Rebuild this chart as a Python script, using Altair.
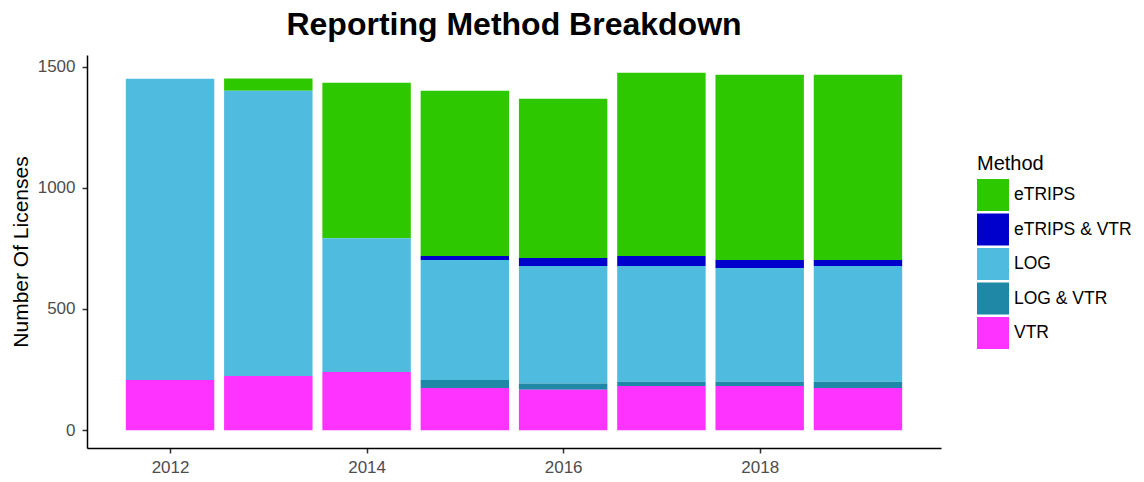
import altair as alt
import pandas as pd

years = [2012, 2013, 2014, 2015, 2016, 2017, 2018, 2019]
methods = ["eTRIPS", "eTRIPS & VTR", "LOG", "LOG & VTR", "VTR"]
colors = ["#2EC800", "#0000CC", "#4FBBDE", "#1F88A6", "#FF33FF"]

etrips = [0, 51, 641, 682, 657, 756, 764, 764]
etrips_vtr = [0, 0, 0, 16, 33, 41, 33, 25]
log = [1243, 1177, 552, 495, 485, 477, 469, 477]
log_vtr = [0, 0, 0, 33, 25, 18, 18, 26]
vtr = [207, 223, 240, 174, 167, 182, 182, 174]

series = {
    "eTRIPS": etrips,
    "eTRIPS & VTR": etrips_vtr,
    "LOG": log,
    "LOG & VTR": log_vtr,
    "VTR": vtr,
}
stack_rank = {"VTR": 0, "LOG & VTR": 1, "LOG": 2, "eTRIPS & VTR": 3, "eTRIPS": 4}

rows = []
for m, vals in series.items():
    for y, v in zip(years, vals):
        if v > 0:
            rows.append({"year": y, "Method": m, "value": v, "rank": stack_rank[m]})
df = pd.DataFrame(rows)

FONT = "Liberation Sans"

chart = (
    alt.Chart(df)
    .transform_stack(
        stack="value",
        groupby=["year"],
        as_=["y0", "y1"],
        sort=[alt.SortField("rank", order="ascending")],
    )
    .transform_calculate(xa="datum.year - 0.45", xb="datum.year + 0.45")
    .mark_bar()
    .encode(
        x=alt.X(
            "xa:Q",
            scale=alt.Scale(domain=[2011.155, 2019.845], nice=False, zero=False),
            axis=alt.Axis(values=[2012, 2014, 2016, 2018], format="d", title=None),
        ),
        x2="xb:Q",
        y=alt.Y(
            "y0:Q",
            scale=alt.Scale(domain=[-73.7, 1547.7], nice=False, zero=False),
            axis=alt.Axis(values=[0, 500, 1000, 1500], format="d", title="Number Of Licenses"),
        ),
        y2="y1:Q",
        color=alt.Color(
            "Method:N",
            scale=alt.Scale(domain=methods, range=colors),
            legend=alt.Legend(
                title="Method",
                orient="none",
                legendX=890,
                legendY=99,
                symbolType="square",
                symbolSize=1024,
                symbolStrokeWidth=0,
                symbolOpacity=1,
                labelFontSize=17.5,
                labelFont=FONT,
                labelColor="#000000",
                labelOffset=5,
                titleFontSize=20,
                titleFont=FONT,
                titleFontWeight="normal",
                titleColor="#000000",
                titlePadding=5,
                rowPadding=2.5,
                padding=0,
            ),
        ),
    )
    .properties(
        width=854,
        height=393,
        title=alt.TitleParams(
            "Reporting Method Breakdown",
            font=FONT,
            fontSize=32,
            fontWeight="bold",
            color="#000000",
            anchor="middle",
            offset=13,
        ),
        autosize=alt.AutoSizeParams(type="none"),
        padding={"left": 79, "top": 47, "right": 190, "bottom": 28},
    )
    .configure_view(stroke=None)
    .configure_axis(
        grid=False,
        domainColor="#000000",
        domainWidth=1.5,
        tickColor="#333333",
        tickWidth=1.5,
        tickSize=5,
        labelFont=FONT,
        labelFontSize=17,
        labelColor="#4D4D4D",
        labelPadding=5,
        titleFont=FONT,
        titleFontSize=21,
        titleFontWeight="normal",
        titleColor="#000000",
    )
    .configure_axisY(titlePadding=6, labelPadding=7)
    .configure_axisX(labelPadding=6)
)

chart.save("out.html", embed_options={"renderer": "svg", "actions": False})
